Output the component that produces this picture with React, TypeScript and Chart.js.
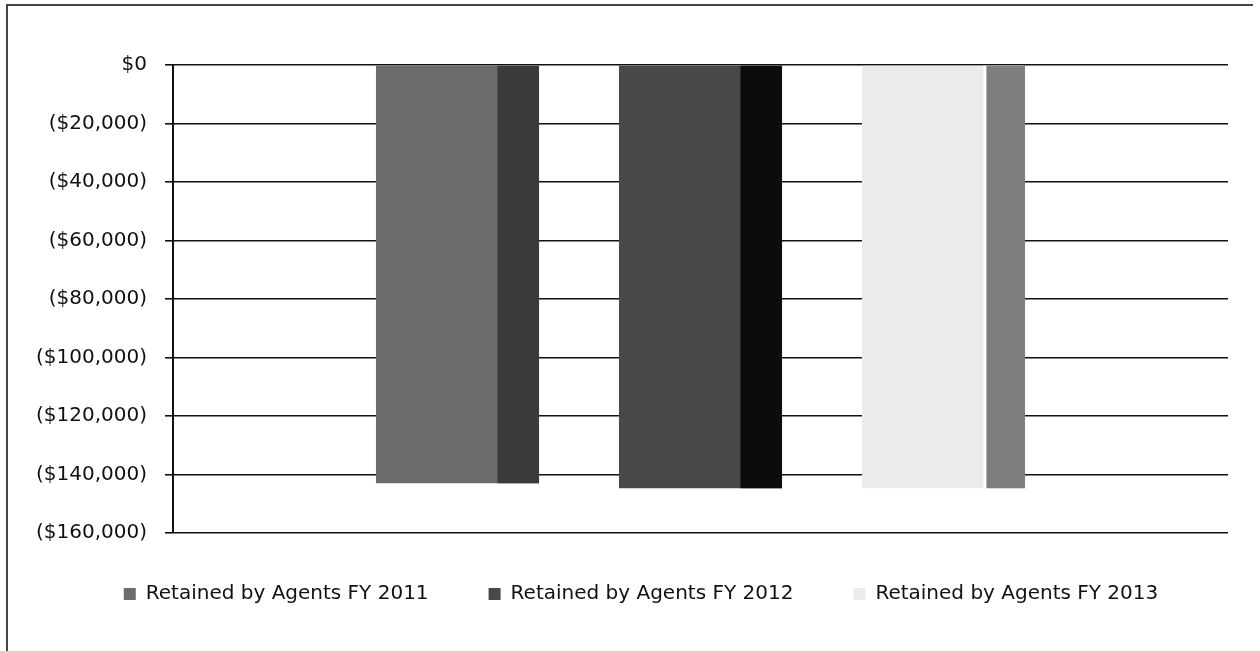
import React, { useEffect, useRef } from "react";
import { Chart, registerables } from "chart.js";

Chart.register(...registerables);

const categories = [""];
const seriesLabels = [
  "Retained by Agents FY 2011",
  "Retained by Agents FY 2012",
  "Retained by Agents FY 2013",
];
const fy2011 = [-143000];
const fy2012 = [-144700];
const fy2013 = [-144700];
const yTicks = [0, -20000, -40000, -60000, -80000, -100000, -120000, -140000, -160000];

const frontColors = ["#6c6c6c", "#484848", "#ebebeb"];
const sideColors = ["#3a3a3a", "#0c0c0c", "#7e7e7e"];
const sideGaps = [0, 0, 3];

const FONT = "'DejaVu Sans', sans-serif";
const LEGEND_PAD = 60;

const fmt = (v: number) =>
  v === 0 ? "$0" : "($" + Math.abs(v).toLocaleString("en-US") + ")";

const sideFacePlugin = {
  id: "sideFace",
  afterDatasetsDraw(chart: any) {
    const ctx = chart.ctx;
    chart.data.datasets.forEach((_: any, i: number) => {
      const meta = chart.getDatasetMeta(i);
      meta.data.forEach((bar: any) => {
        const { x, y, base, width } = bar.getProps(["x", "y", "base", "width"], true);
        const left = x - width / 2;
        const frontW = width * 0.745;
        const top = Math.min(y, base);
        const h = Math.abs(base - y);
        ctx.save();
        if (sideGaps[i] > 0) {
          ctx.fillStyle = "#ffffff";
          ctx.fillRect(left + frontW, top, sideGaps[i], h);
        }
        ctx.fillStyle = sideColors[i];
        ctx.fillRect(left + frontW + sideGaps[i], top, width - frontW - sideGaps[i], h);
        ctx.restore();
      });
    });
  },
};

const framePlugin = {
  id: "frame",
  afterLayout(chart: any) {
    const lg = chart.legend;
    if (lg) {
      const h = lg.height;
      lg.left = 54;
      lg.top = 594 - 10 - LEGEND_PAD;
      lg.bottom = lg.top + h;
    }
  },
  beforeDraw(chart: any) {
    const ctx = chart.ctx;
    ctx.save();
    ctx.strokeStyle = "#444";
    ctx.lineWidth = 2;
    ctx.beginPath();
    ctx.moveTo(7, 651);
    ctx.lineTo(7, 5);
    ctx.lineTo(1253, 5);
    ctx.stroke();
    ctx.restore();
  },
};

export default function App() {
  const ref = useRef<HTMLCanvasElement>(null);

  useEffect(() => {
    document.body.style.margin = "0";
    const series = [fy2011, fy2012, fy2013];
    const chart = new Chart(ref.current!, {
      type: "bar",
      data: {
        labels: categories,
        datasets: series.map((d, i) => ({
          label: seriesLabels[i],
          data: d,
          backgroundColor: frontColors[i],
          borderWidth: 0,
          categoryPercentage: 0.691,
          barPercentage: 0.671,
        })),
      },
      options: {
        animation: false,
        responsive: false,
        maintainAspectRatio: false,
        layout: { padding: { left: 0, right: 32, top: 65, bottom: 28 } },
        plugins: {
          tooltip: { enabled: false },
          legend: {
            position: "bottom",
            labels: {
              boxWidth: 12,
              boxHeight: 12,
              padding: LEGEND_PAD,
              color: "#111",
              font: { family: FONT, size: 20 },
            },
          },
        },
        scales: {
          x: { display: false },
          y: {
            min: -160000,
            max: 0,
            afterFit(scale: any) {
              scale.width = 173;
            },
            afterBuildTicks(scale: any) {
              scale.ticks = yTicks.map((v) => ({ value: v }));
            },
            ticks: {
              padding: 18,
              color: "#111",
              font: { family: FONT, size: 20 },
              callback: (v: any) => fmt(Number(v)),
            },
            grid: {
              color: "#111",
              lineWidth: 1.6,
              tickLength: 8,
              drawTicks: true,
            },
            border: { display: true, color: "#111", width: 2 },
          },
        },
      },
      plugins: [sideFacePlugin, framePlugin],
    });
    return () => chart.destroy();
  }, []);

  return <canvas ref={ref} width={1260} height={651} style={{ display: "block" }} />;
}
